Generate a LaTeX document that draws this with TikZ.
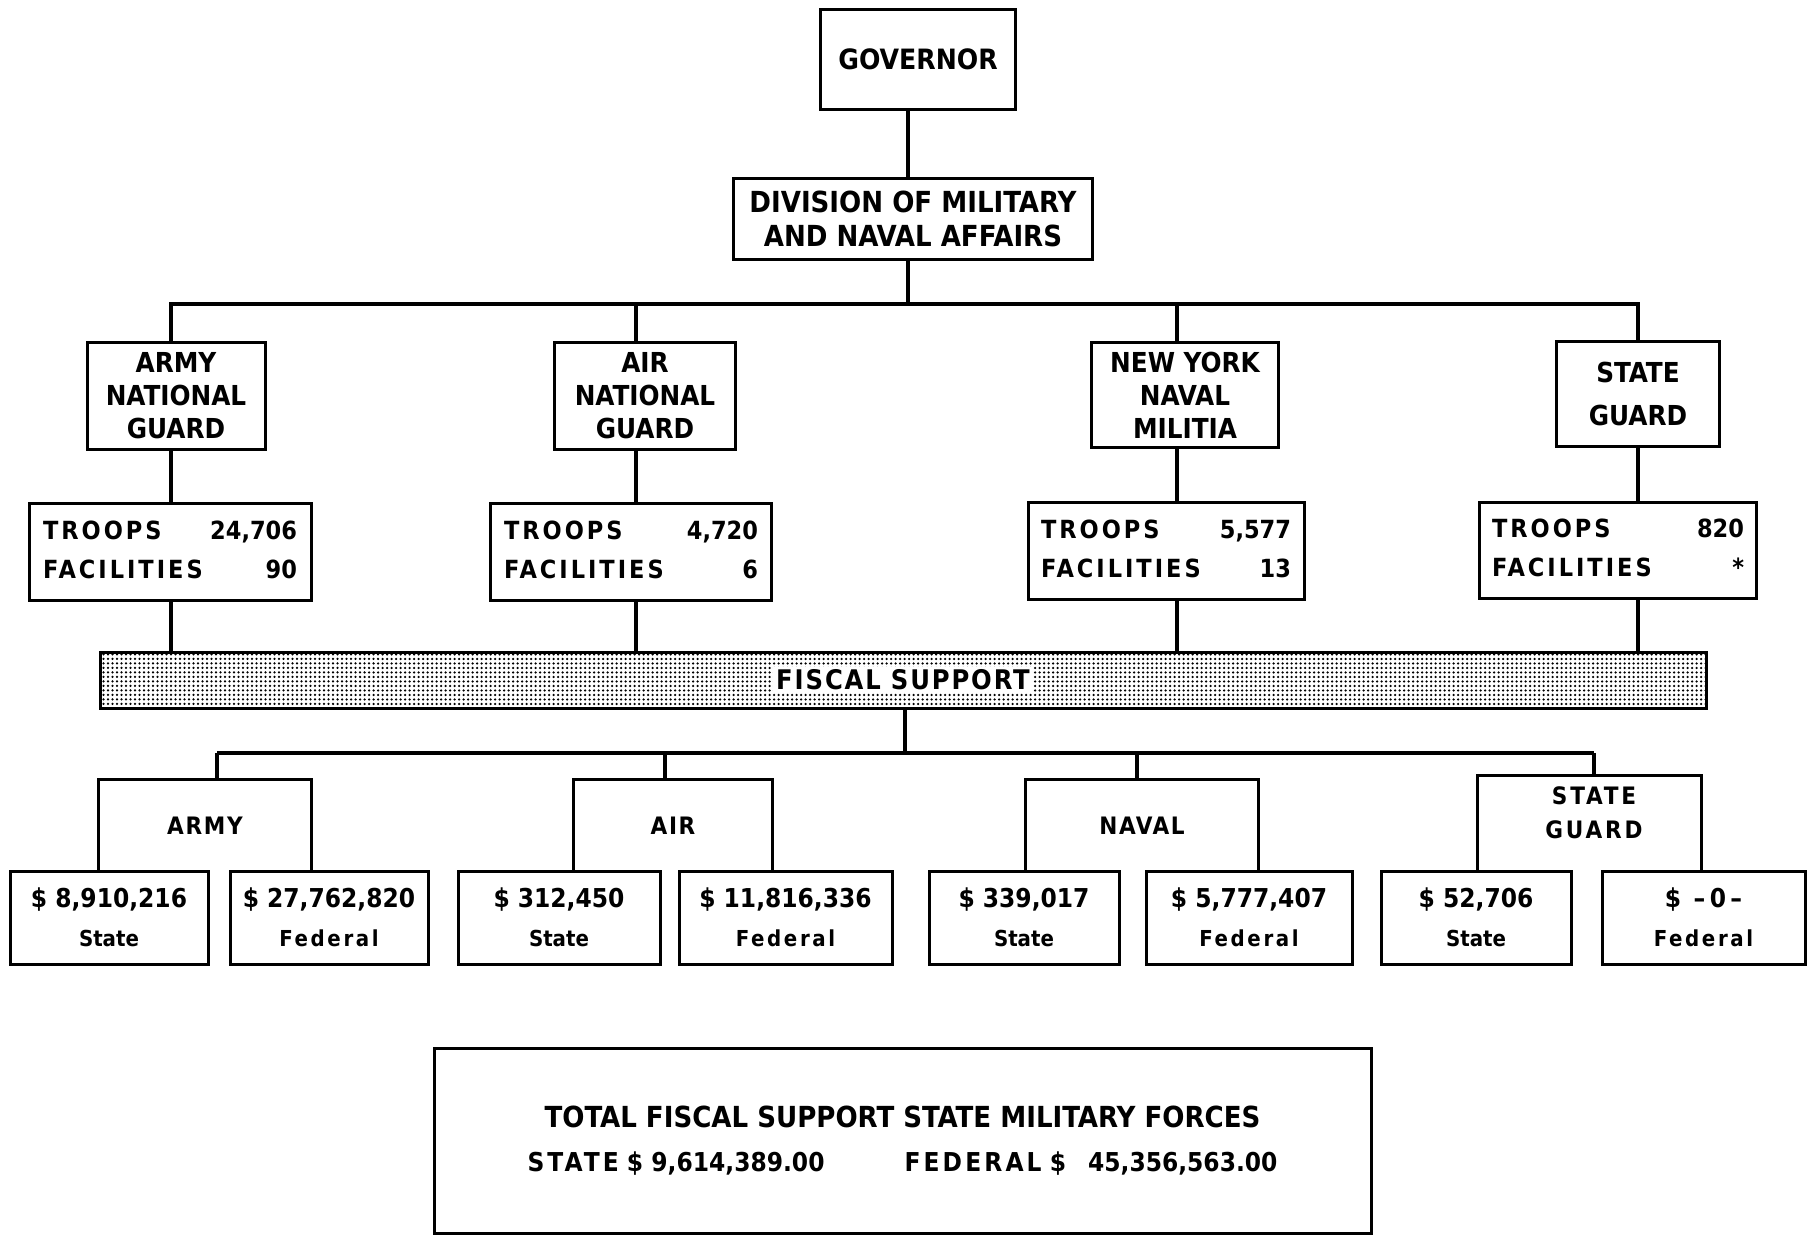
\documentclass[tikz,border=0pt]{standalone}
\usepackage{fontspec}
\setmainfont{DejaVu Sans Condensed}
\usetikzlibrary{patterns.meta}
\newcommand\lsp[1]{{\addfontfeature{LetterSpace=12}#1}}
\newcommand\lspb[1]{{\addfontfeature{LetterSpace=7}#1}}
\begin{document}
\begin{tikzpicture}[x=1pt,y=-1pt,
  box/.style={draw, line width=3pt, inner sep=0pt, align=center,
    font=\bfseries\fontsize{27.5}{33}\selectfont},
  hdr/.style={inner sep=0pt, align=center, font=\bfseries\fontsize{24}{34}\selectfont},
  boxline/.style={line width=3pt},
  conn/.style={line width=4pt},
  troop/.style={box, font=\bfseries\fontsize{25}{33}\selectfont},
  money/.style={box, font=\bfseries\fontsize{26}{33}\selectfont, minimum height=93pt}
]
\useasboundingbox (0,0) rectangle (1810,1235);

% top
\node[box, minimum width=195pt, minimum height=100pt, font=\bfseries\fontsize{28}{33}\selectfont] (gov) at (918,59) {GOVERNOR};
\node[box, minimum width=359pt, minimum height=81pt, font=\bfseries\fontsize{29}{34}\selectfont] (div) at (913,219) {DIVISION OF MILITARY\\AND NAVAL AFFAIRS};

% level 2
\node[box, minimum width=178pt, minimum height=107pt] (ang) at (176,396) {ARMY\\NATIONAL\\GUARD};
\node[box, minimum width=181pt, minimum height=107pt] (airng) at (645,396) {AIR\\NATIONAL\\GUARD};
\node[box, minimum width=187pt, minimum height=105pt] (nynm) at (1185,395) {NEW YORK\\NAVAL\\MILITIA};
\node[box, minimum width=163pt, minimum height=105pt] (sg) at (1638,394) {STATE\\[10pt]GUARD};

% troops
\node[troop, minimum width=282pt, minimum height=97pt] (at) at (170,552) {%
  \begin{tabular*}{254pt}{@{}l@{\extracolsep{\fill}}r@{}}\lsp{TROOPS} & 24,706\\[6pt] \lsp{FACILITIES} & 90\end{tabular*}};
\node[troop, minimum width=281pt, minimum height=97pt] (airt) at (631,552) {%
  \begin{tabular*}{254pt}{@{}l@{\extracolsep{\fill}}r@{}}\lsp{TROOPS} & 4,720\\[6pt] \lsp{FACILITIES} & 6\end{tabular*}};
\node[troop, minimum width=276pt, minimum height=97pt] (navt) at (1166,551) {%
  \begin{tabular*}{250pt}{@{}l@{\extracolsep{\fill}}r@{}}\lsp{TROOPS} & 5,577\\[6pt] \lsp{FACILITIES} & 13\end{tabular*}};
\node[troop, minimum width=277pt, minimum height=96pt] (sgt) at (1618,550) {%
  \begin{tabular*}{252pt}{@{}l@{\extracolsep{\fill}}r@{}}\lsp{TROOPS} & 820\\[6pt] \lsp{FACILITIES} & *\end{tabular*}};

% fiscal support bar
\node[draw, line width=3pt, pattern={Dots[distance=4.5pt, radius=1.25pt]}, minimum width=1606pt, minimum height=56pt] (fiscal) at (903,680) {};
\node[fill=white, inner sep=3pt, font=\bfseries\fontsize{27}{30}\selectfont] (fiscaltext) at (fiscal.center) {\lspb{FISCAL}\hspace{10pt}\lspb{SUPPORT}};

% lower headers (open boxes)
\node[hdr, minimum width=212pt, minimum height=91pt] (ha) at (205,825.5) {\lspb{ARMY}};
\node[hdr, minimum width=198pt, minimum height=91pt] (hair) at (673,825.5) {\lspb{AIR}};
\node[hdr, minimum width=232pt, minimum height=91pt] (hnav) at (1142,825.5) {\lspb{NAVAL}};
\node[hdr, minimum width=223pt, minimum height=95pt] (hsg) at (1589.5,823.5) {};
\node[hdr] (hsgtext) at (1594,813) {\lsp{STATE}\\\lsp{GUARD}};
\foreach \h in {ha,hair,hnav,hsg}
  \draw[boxline] (\h.south west) -- (\h.north west) -- (\h.north east) -- (\h.south east);

% money boxes
\node[money, minimum width=198pt] (as) at (109,917.5) {\$ 8,910,216\\[6pt]{\fontsize{22}{25}\selectfont State}};
\node[money, minimum width=198pt] (af) at (329,917.5) {\$ 27,762,820\\[6pt]{\fontsize{22}{25}\selectfont\lsp{Federal}}};
\node[money, minimum width=202pt] (irs) at (559,917.5) {\$ 312,450\\[6pt]{\fontsize{22}{25}\selectfont State}};
\node[money, minimum width=213pt] (irf) at (785.5,917.5) {\$ 11,816,336\\[6pt]{\fontsize{22}{25}\selectfont\lsp{Federal}}};
\node[money, minimum width=190pt] (ns) at (1024,917.5) {\$ 339,017\\[6pt]{\fontsize{22}{25}\selectfont State}};
\node[money, minimum width=206pt] (nf) at (1249,917.5) {\$ 5,777,407\\[6pt]{\fontsize{22}{25}\selectfont\lsp{Federal}}};
\node[money, minimum width=190pt] (ss) at (1476,917.5) {\$ 52,706\\[6pt]{\fontsize{22}{25}\selectfont State}};
\node[money, minimum width=203pt] (sf) at (1703.5,917.5) {\$ \,--\,0\,--\\[6pt]{\fontsize{22}{25}\selectfont\lsp{Federal}}};

% total box
\node[box, minimum width=937pt, minimum height=185pt, font=\bfseries\fontsize{29}{34}\selectfont] (total) at (902.5,1141)
  {TOTAL FISCAL SUPPORT STATE MILITARY FORCES\\[10pt]{\fontsize{26}{34}\selectfont\lsp{STATE} \$ 9,614,389.00\hspace{80pt}\lsp{FEDERAL} \$\hspace{22pt}45,356,563.00}};

% connectors top
\coordinate (bus1) at (908,304);
\coordinate (cA) at (171,304);
\coordinate (cI) at (636,304);
\coordinate (cN) at (1177,304);
\coordinate (cS) at (1638,304);
\draw[conn] (gov.south -| bus1) -- (div.north -| bus1);
\draw[conn] (div.south -| bus1) -- (bus1);
\draw[conn] (cA |- ang.north) -- (cA) -- (cS) -- (cS |- sg.north);
\draw[conn] (cI) -- (cI |- airng.north);
\draw[conn] (cN) -- (cN |- nynm.north);

% level 2 to troops
\draw[conn] (cA |- ang.south) -- (cA |- at.north);
\draw[conn] (cI |- airng.south) -- (cI |- airt.north);
\draw[conn] (cN |- nynm.south) -- (cN |- navt.north);
\draw[conn] (cS |- sg.south) -- (cS |- sgt.north);

% troops to fiscal
\draw[conn] (cA |- at.south) -- (cA |- fiscal.north);
\draw[conn] (cI |- airt.south) -- (cI |- fiscal.north);
\draw[conn] (cN |- navt.south) -- (cN |- fiscal.north);
\draw[conn] (cS |- sgt.south) -- (cS |- fiscal.north);

% fiscal to lower bus
\coordinate (bus2) at (905,753);
\coordinate (dA) at (217,753);
\coordinate (dI) at (665,753);
\coordinate (dN) at (1137,753);
\coordinate (dS) at (1594,753);
\draw[conn] (fiscal.south -| bus2) -- (bus2);
\draw[conn] (dA) -- (dS);
\draw[conn] (dA) -- (dA |- ha.north);
\draw[conn] (dI) -- (dI |- hair.north);
\draw[conn] (dN) -- (dN |- hnav.north);
\draw[conn] (dS) -- (dS |- hsg.north);
\end{tikzpicture}
\end{document}
